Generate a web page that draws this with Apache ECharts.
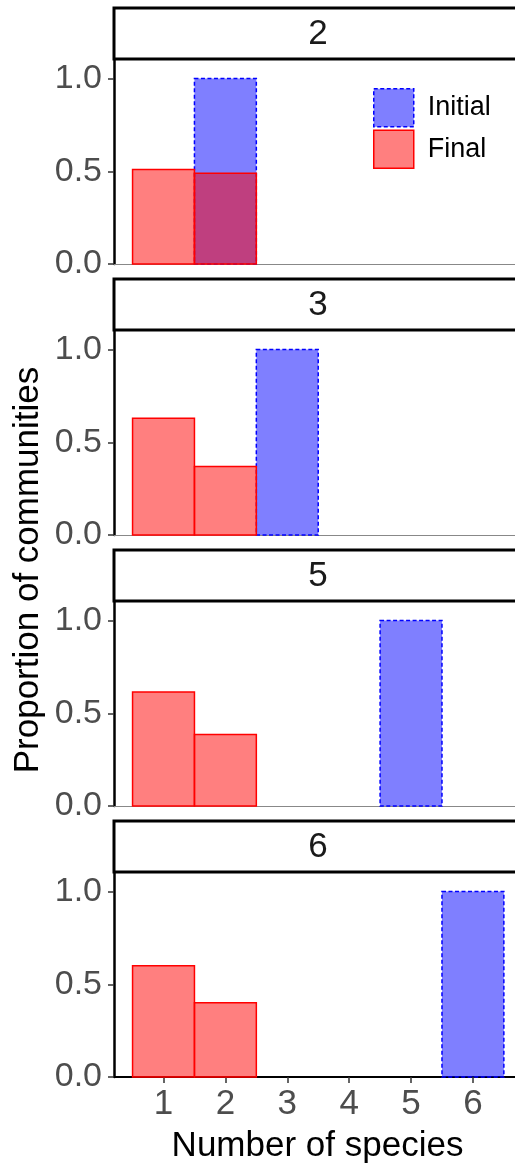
<!DOCTYPE html>
<html>
<head>
<meta charset="utf-8">
<script src="https://cdn.jsdelivr.net/npm/echarts@6/dist/echarts.min.js"></script>
<style>html,body{margin:0;padding:0;background:#fff;}#c{width:515px;height:1163px;}</style>
</head>
<body>
<div id="c"></div>
<script>
// ---- data ----
const panels = ['2', '3', '5', '6'];
const species = [1, 2, 3, 4, 5, 6];
const initial2 = [0, 1.0, 0, 0, 0, 0];
const final2   = [0.51, 0.49, 0, 0, 0, 0];
const initial3 = [0, 0, 1.0, 0, 0, 0];
const final3   = [0.63, 0.37, 0, 0, 0, 0];
const initial5 = [0, 0, 0, 0, 1.0, 0];
const final5   = [0.615, 0.385, 0, 0, 0, 0];
const initial6 = [0, 0, 0, 0, 0, 1.0];
const final6   = [0.60, 0.40, 0, 0, 0, 0];
const yTicks = [0, 0.5, 1.0];
const xTicks = [1, 2, 3, 4, 5, 6];
const yTitle = 'Proportion of communities';
const xTitle = 'Number of species';

const initials = [initial2, initial3, initial5, initial6];
const finals = [final2, final3, final5, final6];

// ---- layout / style ----
const FONT = '"Liberation Sans", Arial, Helvetica, sans-serif';
const gridLeft = 114, plotH = 204, step = 271, firstTop = 60, stripH = 53;
const xMin = 0.2, xMax = 6.68;
const stripCenterX = 318;
const styles = {
  Initial: { fill: 'rgba(0,0,255,0.5)', stroke: '#0000FF', lineWidth: 1.5, lineDash: [4, 2.5] },
  Final: { fill: 'rgba(255,0,0,0.5)', stroke: '#FF0000', lineWidth: 1.5, lineDash: null }
};

function pairs(arr) {
  const out = [];
  arr.forEach((v, i) => { if (v > 0) out.push([species[i], v]); });
  return out;
}

function makeRender(name) {
  return function (params, api) {
    const x = api.value(0), y = api.value(1);
    const p0 = api.coord([x - 0.5, y]);
    const p1 = api.coord([x + 0.5, 0]);
    const s = styles[name];
    return {
      type: 'rect',
      shape: { x: p0[0], y: p0[1], width: p1[0] - p0[0], height: p1[1] - p0[1] },
      style: { fill: s.fill, stroke: s.stroke, lineWidth: s.lineWidth, lineDash: s.lineDash }
    };
  };
}

const grids = [], xAxes = [], yAxes = [], series = [], graphics = [];
panels.forEach((p, i) => {
  const top = firstTop + step * i;
  const last = i === panels.length - 1;
  grids.push({ left: gridLeft, top: top, right: 0, height: plotH, containLabel: false, outerBoundsMode: 'none' });
  xAxes.push({
    type: 'value', gridIndex: i, min: xMin, max: xMax,
    axisLine: { show: true, onZero: false, lineStyle: last ? { color: '#000', width: 2 } : { color: '#888', width: 1 } },
    axisTick: { show: last, length: 6, lineStyle: { color: '#333', width: 1.5 }, customValues: xTicks },
    axisLabel: { show: last, customValues: xTicks, color: '#4D4D4D', fontSize: 35, fontFamily: FONT, margin: 10 },
    splitLine: { show: false },
    name: last ? xTitle : '', nameLocation: 'middle', nameGap: 52,
    nameTextStyle: { color: '#000', fontSize: 35, fontFamily: FONT, padding: [0, 0, 0, 6] }
  });
  yAxes.push({
    type: 'value', gridIndex: i, min: 0, max: 1.1,
    axisLine: { show: true, lineStyle: { color: '#000', width: 2.5 } },
    axisTick: { show: true, length: 6, lineStyle: { color: '#333', width: 1.5 }, customValues: yTicks },
    axisLabel: { customValues: yTicks, color: '#4D4D4D', fontSize: 34, fontFamily: FONT, margin: 12,
      formatter: v => v.toFixed(1) },
    splitLine: { show: false }
  });
  // strip
  const sTop = 7 + step * i;
  graphics.push({
    type: 'rect', shape: { x: gridLeft, y: sTop + 1, width: 430, height: stripH - 2 },
    style: { fill: '#fff', stroke: '#000', lineWidth: 3 }, z: 10
  });
  graphics.push({
    type: 'text', x: stripCenterX, y: sTop + stripH / 2 + 1,
    style: { text: p, fill: '#1A1A1A', font: '35px ' + FONT, align: 'center', verticalAlign: 'middle' }, z: 11
  });
});

panels.forEach((p, i) => {
  series.push({ name: 'Initial', type: 'custom', xAxisIndex: i, yAxisIndex: i,
    itemStyle: { color: styles.Initial.fill }, renderItem: makeRender('Initial'), data: pairs(initials[i]) });
});
panels.forEach((p, i) => {
  series.push({ name: 'Final', type: 'custom', xAxisIndex: i, yAxisIndex: i,
    itemStyle: { color: styles.Final.fill }, renderItem: makeRender('Final'), data: pairs(finals[i]) });
});

graphics.push({
  type: 'text', x: 28, y: 570, rotation: Math.PI / 2,
  style: { text: yTitle, fill: '#000', font: '35px ' + FONT, align: 'center', verticalAlign: 'middle' }
});

const chart = echarts.init(document.getElementById('c'), null, { renderer: 'canvas' });
chart.setOption({
  animation: false,
  backgroundColor: '#fff',
  grid: grids,
  xAxis: xAxes,
  yAxis: yAxes,
  legend: {
    orient: 'vertical', left: 373, top: 88, padding: 0, itemWidth: 40, itemHeight: 38, itemGap: 2,
    textStyle: { fontSize: 27, color: '#000', fontFamily: FONT, padding: [0, 0, 0, 9] },
    data: [
      { name: 'Initial', icon: 'rect', itemStyle: { color: styles.Initial.fill, borderColor: '#0000FF', borderWidth: 1.5, borderType: [4, 2.5] } },
      { name: 'Final', icon: 'rect', itemStyle: { color: styles.Final.fill, borderColor: '#FF0000', borderWidth: 1.5 } }
    ]
  },
  graphic: graphics,
  series: series
});
</script>
</body>
</html>
